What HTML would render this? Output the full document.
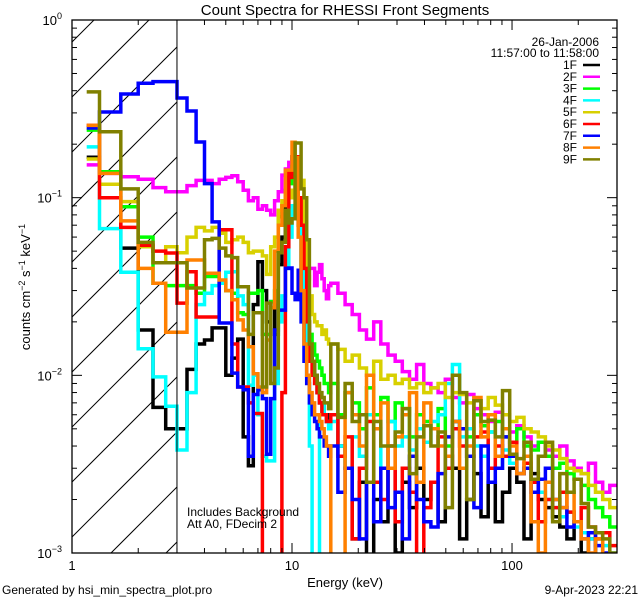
<!DOCTYPE html>
<html><head><meta charset="utf-8"><style>
html,body{margin:0;padding:0;background:#fff;width:640px;height:600px;overflow:hidden;}
svg{display:block;overflow:hidden;font-family:"Liberation Sans",sans-serif;}
</style></head><body>
<svg id="chart" width="640" height="600" viewBox="0 0 640 600">
<rect width="640" height="600" fill="#fff"/>
<defs><clipPath id="plotclip"><rect x="72" y="20" width="545" height="533"/></clipPath></defs>
<g id="hatch"></g>
<g id="series" clip-path="url(#plotclip)"></g>
<g id="axes"></g>
<text x="345" y="15" text-anchor="middle" font-size="15">Count Spectra for RHESSI Front Segments</text>
<text x="345" y="587" text-anchor="middle" font-size="13">Energy (keV)</text>
<text transform="translate(30,287) rotate(-90)" text-anchor="middle" font-size="13">counts cm<tspan dy="-5" font-size="9">−2</tspan><tspan dy="5"> s</tspan><tspan dy="-5" font-size="9">−1</tspan><tspan dy="5"> keV</tspan><tspan dy="-5" font-size="9">−1</tspan></text>
<text x="2" y="594" font-size="12">Generated by hsi_min_spectra_plot.pro</text>
<text x="638" y="594" text-anchor="end" font-size="12">9-Apr-2023 22:21</text>
<text x="187" y="516" font-size="12">Includes Background</text>
<text x="187" y="528" font-size="12">Att A0, FDecim 2</text>
<text x="599" y="46" text-anchor="end" font-size="12">26-Jan-2006</text>
<text x="599" y="57" text-anchor="end" font-size="12">11:57:00 to 11:58:00</text>
<g id="legend"></g>
</svg>
<script>
// Series values in units of 1e-4 counts cm^-2 s^-1 keV^-1
// First 42 values: 1/3 keV bins from 1 to 15 keV; last 40: log bins from 15 to 300 keV
const segNames = ["1F","2F","3F","4F","5F","6F","7F","8F","9F"];
const segColors = ["#000000","#ff00ff","#00ff00","#00ffff","#d8d000","#ff0000","#0000ff","#ff8000","#808000"];
const s1F = [1690,1400,520,180,66,50,50,108,150,158,185,185,100,125,160,45,31,250,436,300,200,260,170,420,600,900,1300,1700,1200,700,300,250,200,150,120,100,80,70,70,60,55,60,
 60,40,30,12,25,8,20,15,30,10,25,18,30,20,25,15,35,30,12,20,28,16,25,15,22,30,25,12,28,20,18,16,14,12,15,10,12,9,8,7];
const s2F = [1530,1370,1310,1270,1140,1080,1080,1170,1250,1250,1200,1270,1300,1330,1230,1100,960,1000,860,900,850,800,960,1080,1340,1450,1580,1600,1000,900,720,550,350,400,400,320,380,420,350,300,270,320,
 330,290,250,220,180,160,200,150,130,120,105,95,115,90,85,80,95,75,70,78,65,60,55,62,50,48,52,45,40,42,38,35,40,33,30,28,32,25,22,24];
const s3F = [2400,1400,890,600,330,320,320,320,290,360,360,330,300,290,225,220,290,290,300,170,170,260,300,780,900,1100,1200,1500,1300,900,600,400,250,170,150,130,120,110,100,90,90,80,
 90,60,80,70,50,85,60,75,55,70,65,45,60,55,50,65,40,55,50,45,60,52,48,55,45,42,50,40,38,42,35,30,32,28,26,24,20,18,16,14];
const s4F = [1930,670,380,141,98,67,38,80,250,290,320,330,380,383,280,250,88,100,60,35,33,33,90,200,280,400,600,900,850,700,400,200,100,40,5,5,5,60,70,60,55,50,
 55,40,30,45,35,60,50,30,55,40,45,38,50,42,55,60,90,115,45,50,40,35,48,30,38,32,28,30,25,22,20,18,16,17,14,13,12,12,11,10];
const s5F = [1650,1190,950,530,430,530,490,600,680,650,680,630,560,580,600,560,490,500,500,470,370,530,600,850,960,1060,1000,1100,1300,1200,1250,600,360,280,220,200,190,190,170,180,160,150,
 150,140,120,130,110,100,120,95,100,90,95,85,90,80,85,90,75,80,78,70,72,65,75,68,60,55,58,50,48,45,40,38,34,30,29,28,24,22,20,18];
const s6F = [2550,1000,680,540,500,488,255,383,213,213,213,660,660,150,86,86,70,61,61,5,5,5,5,5,80,530,1400,1300,1700,1000,700,400,200,120,100,90,80,70,60,60,55,55,
 60,35,45,12,30,55,25,20,40,15,30,22,8,18,25,45,30,50,40,35,45,48,30,40,35,42,28,32,25,15,20,18,22,17,15,18,14,12,13,11];
const s7F = [2466,3035,3835,4400,4500,4500,3640,3074,2058,1200,730,197,197,103,86,83,35,78,83,74,36,74,180,233,233,400,402,290,267,390,200,120,90,70,60,55,50,45,45,40,40,35,
 40,22,30,20,12,25,15,30,18,22,12,35,20,15,14,28,45,55,50,35,18,40,25,30,45,35,28,30,22,26,30,20,18,14,15,12,13,11,10,9];
const s8F = [2550,1370,740,400,330,175,175,446,446,375,375,344,300,266,205,180,145,102,86,80,158,240,500,700,900,1430,1430,2050,1680,600,300,150,100,80,70,60,60,55,50,45,40,40,
 5,5,80,60,40,100,50,70,30,45,60,80,25,70,50,40,35,55,30,40,75,45,60,35,50,40,28,35,15,10,25,20,18,22,15,12,10,12,8,9];
const s9F = [3940,2350,1120,560,430,430,430,310,310,580,590,520,470,460,315,315,170,225,225,86,255,90,110,490,560,850,720,760,2030,2030,1120,1000,580,150,120,100,90,80,75,70,70,65,
 150,58,90,55,60,25,55,40,40,48,65,28,45,52,40,48,18,100,80,20,72,55,56,45,82,36,34,42,26,35,42,15,28,22,26,19,14,13,12,10];
const seriesValues = [s1F,s2F,s3F,s4F,s5F,s6F,s7F,s8F,s9F];
const valueUnit = 1e-4;
const xTickLabels = ["1","10","100"];
const xTickValues = [1,10,100];
const yTickExps = ["0","−1","−2","−3"];
const yTickValues = [1,0.1,0.01,0.001];

const NS="http://www.w3.org/2000/svg";
const L=72,R=617,T=20,B=553;
const xMin=0, xMax=Math.log10(300), yMin=-3, yMax=0;
const xs = e => L + (Math.log10(e)-xMin)/(xMax-xMin)*(R-L);
const ys = v => T + (yMax-Math.log10(Math.max(v,1e-6)))/(yMax-yMin)*(B-T);
function mk(tag, attrs, parent){const el=document.createElementNS(NS,tag);for(const k in attrs)el.setAttribute(k,attrs[k]);parent.appendChild(el);return el;}

const edges=[];
for(let i=0;i<=42;i++) edges.push(1+i/3);
for(let k=1;k<=40;k++) edges.push(15*Math.pow(20,k/40));

const svg=document.getElementById('chart');
const hatch=document.getElementById('hatch');
const X3=xs(3);
// lines y = c - (x - L), clipped to [L,X3] x [T,B]
for(let c=-100;c<=B+200;c+=55){
  const cc=c+32;
  let xa=Math.max(L, L+cc-B), xb=Math.min(X3, L+cc-T);
  if(xb<=xa) continue;
  const ln=mk('line',{x1:xa,y1:cc-(xa-L),x2:xb,y2:cc-(xb-L),stroke:'#000','stroke-width':1},hatch);
  
  
}
const vl=mk('line',{x1:X3,y1:T,x2:X3,y2:B,stroke:'#000','stroke-width':1},svg);



const sg=document.getElementById('series');
seriesValues.forEach((vals,si)=>{
  let d='';
  for(let i=0;i<vals.length;i++){
    const v=vals[i]*valueUnit;
    const xa = i===0 ? xs((edges[0]+edges[1])/2) : xs(edges[i]);
    const xb = Math.min(xs(edges[i+1]), R);
    const y=Math.min(ys(v), B+3);
    d += (i===0?'M':'L')+xa.toFixed(1)+','+y.toFixed(1)+'L'+xb.toFixed(1)+','+y.toFixed(1);
  }
  const p=mk('path',{d:d,fill:'none',stroke:segColors[si],'stroke-width':3.5,'stroke-linejoin':'miter'},sg);
  
  
});

const ax=document.getElementById('axes');
const frame=mk('rect',{x:L,y:T,width:R-L,height:B-T,fill:'none',stroke:'#000','stroke-width':1.3},ax);


for(let dec=0;dec<3;dec++){
  for(let m=1;m<10;m++){
    const e=m*Math.pow(10,dec); if(e>300)break;
    const x=xs(e), len=m===1?10:5;
    mk('line',{x1:x,y1:B,x2:x,y2:B-len,stroke:'#000'},ax);
    mk('line',{x1:x,y1:T,x2:x,y2:T+len,stroke:'#000'},ax);
  }
}
xTickValues.forEach((v,i)=>{
  const t=mk('text',{x:xs(v),y:570,'text-anchor':'middle','font-size':13},ax);
  t.textContent=xTickLabels[i];
  
  
});
for(let dec=-3;dec<0;dec++){
  for(let m=1;m<10;m++){
    const v=m*Math.pow(10,dec), y=ys(v), len=m===1?10:5;
    mk('line',{x1:L,y1:y,x2:L+len,y2:y,stroke:'#000'},ax);
    mk('line',{x1:R,y1:y,x2:R-len,y2:y,stroke:'#000'},ax);
  }
}
yTickValues.forEach((v,i)=>{
  const t=mk('text',{x:62,y:ys(v)+5,'text-anchor':'end','font-size':13},ax);
  t.textContent='10';
  const s=mk('tspan',{dy:-6,'font-size':9},t);
  s.textContent=yTickExps[i];
  
  
});
const lg=document.getElementById('legend');
segNames.forEach((n,i)=>{
  const y=69+i*11.8;
  const t=mk('text',{x:577,y:y,'text-anchor':'end','font-size':12},lg);
  t.textContent=n;
  
  
  const l=mk('line',{x1:583,y1:y-4,x2:600,y2:y-4,stroke:segColors[i],'stroke-width':2.5},lg);
  
  
});
</script>
</body></html>
